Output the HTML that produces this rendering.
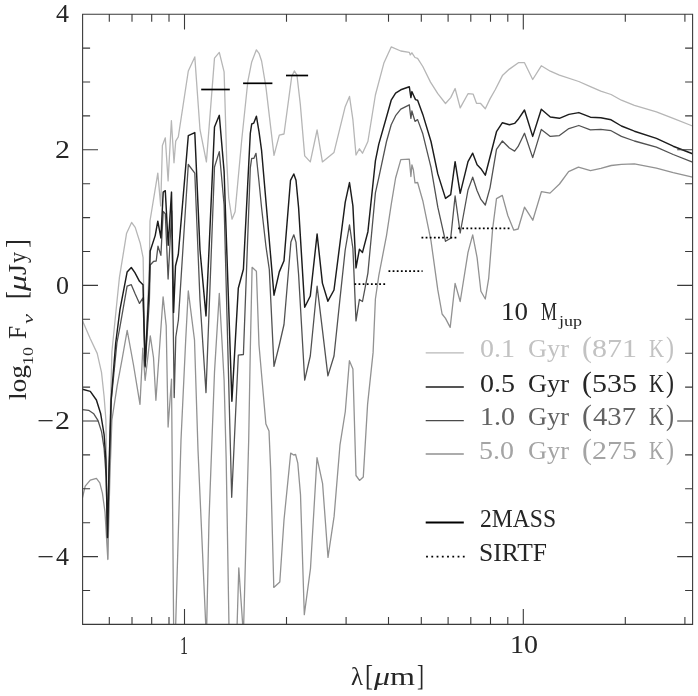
<!DOCTYPE html>
<html><head><meta charset="utf-8"><title>10 Mjup spectra</title>
<style>html,body{margin:0;padding:0;background:#fff}svg{display:block}text{font-family:"Liberation Serif",serif;}</style></head><body>
<svg width="698" height="696" viewBox="0 0 698 696">
<rect width="698" height="696" fill="#fff"/>
<defs><clipPath id="c"><rect x="82.6" y="14.2" width="610.0" height="610.2"/></clipPath></defs>
<g clip-path="url(#c)" fill="none" stroke-linejoin="round" stroke-linecap="round">
<polyline stroke="#b6b6b6" stroke-width="1.3" points="82.5,320.7 90.3,338.8 97.2,353.4 101.5,372.4 104.1,396.5 105.9,420.0 107.8,559.5 109.6,440.0 111.9,351.7 117.1,300.0 119.4,277.7 126.6,233.2 131.6,222.4 135.2,227.4 140.2,243.2 143.1,257.6 145.1,368.0 149.4,262.0 150.0,221.0 157.8,173.1 160.7,205.9 162.4,145.5 165.3,137.8 168.1,180.9 171.4,120.7 174.0,162.8 175.7,141.2 178.3,136.9 188.3,71.0 194.8,56.9 200.0,129.7 206.4,161.9 214.5,58.1 219.3,52.4 224.1,71.9 226.7,160.0 228.7,198.0 232.0,219.2 235.1,211.7 241.7,140.3 247.8,81.7 251.7,61.9 256.4,49.8 259.0,53.3 261.6,61.0 265.9,86.9 274.0,155.3 279.3,135.2 284.0,134.0 291.7,76.6 294.3,70.9 296.9,74.8 300.3,104.1 304.7,155.9 310.3,161.9 317.1,130.0 322.4,161.9 334.0,152.4 345.2,106.7 349.5,96.4 352.9,119.7 356.0,155.0 359.4,148.8 362.5,153.2 367.9,141.5 375.4,95.0 384.0,62.7 391.2,46.9 400.8,51.0 409.3,52.3 410.3,54.9 411.9,52.8 415.0,57.5 417.6,58.3 422.8,66.5 430.5,82.1 437.8,93.7 445.5,103.5 450.7,97.6 455.1,88.5 460.2,107.9 468.0,93.7 473.2,94.2 476.5,103.3 480.4,103.3 485.3,108.7 490.0,98.9 495.2,89.8 502.4,75.6 509.4,69.1 518.4,62.7 524.5,62.7 532.7,79.5 541.3,65.8 550.3,71.2 559.4,75.1 578.8,81.5 590.4,86.7 600.8,91.1 611.1,94.5 621.4,100.2 634.4,105.3 656.4,111.8 673.2,118.3 692.5,126.0"/>
<polyline stroke="#929292" stroke-width="1.3" points="82.5,497.5 85.2,486.2 90.3,480.2 96.4,478.4 99.8,482.8 102.4,493.1 105.0,512.1 107.8,559.0 109.8,480.0 111.9,420.0 117.1,386.2 122.2,358.6 127.2,330.3 133.5,365.0 140.0,404.3 142.8,348.2 145.1,380.3 150.3,335.8 153.5,357.5 155.9,400.3 159.3,351.7 163.1,296.8 166.2,325.9 168.1,427.0 171.5,379.2 174.1,680.0 181.0,440.0 185.7,340.0 188.3,290.9 194.5,340.0 198.0,450.0 206.4,640.0 209.0,520.0 214.5,372.0 219.3,293.4 221.9,340.0 224.1,380.0 226.2,460.0 231.9,800.0 238.8,567.8 243.4,635.0 248.7,440.0 250.3,350.0 252.1,267.3 256.4,271.3 259.0,345.0 265.9,424.0 269.0,431.0 270.7,470.0 273.8,587.4 279.8,582.0 284.0,520.0 290.7,453.1 293.7,455.0 295.6,454.5 297.8,463.2 300.5,494.6 304.3,614.7 310.5,568.3 317.0,457.7 322.6,483.7 328.0,557.4 334.1,516.4 340.0,444.8 345.3,411.5 349.4,360.7 352.9,369.0 356.0,475.5 359.5,480.4 363.3,476.9 367.6,404.1 373.1,352.4 375.4,299.0 378.8,275.7 386.5,235.6 391.2,204.6 395.6,178.0 400.8,159.6 409.3,159.1 410.9,176.5 411.9,164.8 413.4,170.0 415.0,182.9 417.6,182.5 422.8,200.7 431.0,240.8 437.8,289.9 442.1,314.0 445.5,318.4 450.2,327.4 455.1,283.4 460.2,301.5 468.0,252.4 472.7,234.8 477.1,257.6 480.9,291.2 485.3,299.0 488.7,278.3 492.6,229.1 496.5,198.6 502.3,195.4 507.8,215.5 513.8,230.2 518.1,229.0 524.5,207.2 532.8,220.2 541.4,191.7 550.0,193.1 559.5,184.0 568.6,171.6 578.4,167.2 590.5,170.7 600.9,168.4 611.2,165.5 621.4,164.3 634.4,163.8 656.4,168.2 673.2,172.6 692.5,177.2"/>
<polyline stroke="#525252" stroke-width="1.3" points="82.5,409.6 88.6,410.3 93.8,413.8 98.1,420.7 101.6,431.9 104.1,448.3 106.2,477.6 107.5,537.5 109.2,470.0 111.3,400.0 116.9,343.0 120.0,326.7 127.1,286.2 131.3,284.7 134.9,293.3 139.5,303.4 143.0,297.9 145.1,367.0 149.4,300.0 150.2,265.0 153.7,261.3 156.2,261.0 158.0,246.1 160.9,255.4 163.2,211.4 165.3,213.7 168.1,279.0 171.7,211.0 174.2,397.5 175.8,337.0 178.4,320.0 188.3,164.5 194.8,173.1 200.0,300.0 206.0,392.6 214.5,167.0 219.3,151.6 224.1,205.0 231.7,497.3 238.3,355.2 243.4,354.5 250.3,167.9 251.7,158.4 253.8,158.4 256.0,153.3 259.0,181.7 261.6,208.0 265.9,246.0 269.3,269.5 274.0,366.4 279.3,345.0 284.0,324.5 290.9,242.1 293.8,234.8 296.0,242.1 298.6,274.5 304.7,380.2 310.3,356.0 317.1,286.2 322.4,329.7 327.9,375.9 334.0,356.0 340.0,298.6 345.2,250.0 349.5,224.8 352.9,248.5 356.0,320.9 359.4,299.5 362.5,301.5 367.9,273.1 375.4,192.9 378.8,177.7 386.5,141.5 391.2,124.7 395.6,115.7 400.8,109.2 409.3,104.8 410.9,118.3 411.9,111.0 415.0,121.4 417.6,119.6 422.8,133.8 431.0,167.4 437.8,207.2 445.5,241.3 450.7,238.2 455.1,196.0 460.2,233.0 468.0,190.0 472.7,177.2 477.0,190.5 480.9,199.4 485.3,205.0 490.0,187.8 496.5,149.3 502.4,141.0 509.4,148.0 514.6,151.1 518.0,146.7 524.5,133.3 532.7,157.6 541.3,129.4 550.3,136.4 559.4,135.6 568.9,128.6 578.8,125.5 590.4,129.9 600.8,129.4 611.1,130.7 621.4,136.4 634.4,141.0 656.4,147.2 673.2,154.5 692.5,162.2"/>
<polyline stroke="#1c1c1c" stroke-width="1.45" points="82.5,389.3 90.3,391.4 96.4,400.0 100.7,413.8 104.1,434.5 105.9,460.3 107.5,537.5 109.0,470.0 111.1,400.0 115.7,343.0 120.0,309.4 127.1,272.1 131.3,267.5 134.9,272.6 139.5,281.3 143.0,284.7 145.1,366.0 149.4,281.0 150.2,251.0 155.2,235.6 157.8,221.2 160.9,237.9 163.2,192.1 165.3,190.7 168.2,245.3 171.5,192.1 173.6,312.4 175.5,266.0 178.3,254.5 188.3,135.7 194.8,132.6 200.0,250.0 206.0,315.9 209.0,250.0 214.5,127.1 219.3,115.3 224.1,171.4 231.9,401.2 238.3,288.3 243.4,269.3 250.3,133.4 251.7,124.0 253.8,123.1 256.4,116.2 259.0,131.7 261.6,150.7 274.0,295.2 279.3,271.9 284.0,260.7 290.5,180.3 293.8,174.0 296.0,180.3 298.6,207.6 304.7,307.2 310.3,296.0 317.1,234.0 322.4,283.1 327.9,301.2 334.0,290.0 345.2,202.4 349.5,182.6 352.9,205.9 356.0,267.9 359.4,249.3 362.5,252.4 367.9,231.7 375.4,160.9 378.8,144.1 386.5,117.0 391.2,100.2 395.6,93.2 400.8,89.8 409.3,86.7 410.9,97.6 411.9,91.6 413.4,95.0 415.5,99.6 417.6,100.2 422.8,114.4 431.0,141.5 437.8,173.9 445.5,198.4 450.7,194.6 455.1,161.7 460.2,193.3 468.0,161.7 472.7,153.2 477.1,164.8 480.9,168.7 485.3,175.2 490.0,157.0 496.5,131.7 502.4,122.7 509.4,124.7 514.6,123.4 518.0,119.6 524.5,110.0 532.7,136.4 541.3,109.2 550.3,117.0 559.4,118.3 568.9,114.4 578.8,112.6 590.4,117.2 600.8,117.8 611.1,119.8 621.4,126.0 634.4,131.2 656.4,138.4 673.2,146.2 692.5,153.7"/>
</g>
<g stroke="#000" stroke-width="1.7" fill="none">
<line x1="201.2" y1="89.5" x2="229.8" y2="89.5"/>
<line x1="243.1" y1="83.3" x2="272.4" y2="83.3"/>
<line x1="286.0" y1="75.5" x2="308.1" y2="75.5"/>
</g>
<g stroke="#000" stroke-width="1.8" fill="none" stroke-dasharray="1.8 2.33">
<line x1="354.4" y1="284.1" x2="385.2" y2="284.1"/>
<line x1="388.5" y1="271.2" x2="422.6" y2="271.2"/>
<line x1="421.5" y1="237.7" x2="457.0" y2="237.7"/>
<line x1="458.1" y1="228.4" x2="510.9" y2="228.4"/>
</g>
<path d="M82.6 14.2H692.6V624.4H82.6ZM109.3 14.2v7.5M109.3 624.4v-7.5M132.0 14.2v7.5M132.0 624.4v-7.5M151.7 14.2v7.5M151.7 624.4v-7.5M169.0 14.2v7.5M169.0 624.4v-7.5M184.5 14.2v15.4M184.5 624.4v-15.4M286.5 14.2v7.5M286.5 624.4v-7.5M346.1 14.2v7.5M346.1 624.4v-7.5M388.5 14.2v7.5M388.5 624.4v-7.5M421.3 14.2v7.5M421.3 624.4v-7.5M448.1 14.2v7.5M448.1 624.4v-7.5M470.8 14.2v7.5M470.8 624.4v-7.5M490.5 14.2v7.5M490.5 624.4v-7.5M507.8 14.2v7.5M507.8 624.4v-7.5M523.3 14.2v15.4M523.3 624.4v-15.4M625.3 14.2v7.5M625.3 624.4v-7.5M684.9 14.2v7.5M684.9 624.4v-7.5M82.6 590.5h7.5M692.6 590.5h-7.5M82.6 556.6h15.4M692.6 556.6h-15.4M82.6 522.7h7.5M692.6 522.7h-7.5M82.6 488.8h7.5M692.6 488.8h-7.5M82.6 454.9h7.5M692.6 454.9h-7.5M82.6 421.0h15.4M692.6 421.0h-15.4M82.6 387.1h7.5M692.6 387.1h-7.5M82.6 353.2h7.5M692.6 353.2h-7.5M82.6 319.3h7.5M692.6 319.3h-7.5M82.6 285.4h15.4M692.6 285.4h-15.4M82.6 251.5h7.5M692.6 251.5h-7.5M82.6 217.6h7.5M692.6 217.6h-7.5M82.6 183.7h7.5M692.6 183.7h-7.5M82.6 149.8h15.4M692.6 149.8h-15.4M82.6 115.9h7.5M692.6 115.9h-7.5M82.6 82.0h7.5M692.6 82.0h-7.5M82.6 48.1h7.5M692.6 48.1h-7.5" fill="none" stroke="#3a3a3a" stroke-width="1.1"/>
<g font-size="25">
<text y="357.0" fill="#c2c2c2"><tspan id="r1_0" x="480.00" textLength="35.00" lengthAdjust="spacingAndGlyphs">0.1</tspan> <tspan id="r1_1" x="528.00" textLength="41.00" lengthAdjust="spacingAndGlyphs">Gyr</tspan> <tspan id="r1_2" x="582.00" textLength="10.00" lengthAdjust="spacingAndGlyphs" font-size="29">(</tspan><tspan id="r1_3" x="592.00" textLength="45.00" lengthAdjust="spacingAndGlyphs">871</tspan> <tspan id="r1_4" x="649.00" textLength="15.00" lengthAdjust="spacingAndGlyphs">K</tspan><tspan id="r1_5" x="666.00" textLength="8.00" lengthAdjust="spacingAndGlyphs" font-size="29">)</tspan></text>
<text y="391.5" fill="#262626"><tspan id="r2_0" x="480.00" textLength="35.00" lengthAdjust="spacingAndGlyphs">0.5</tspan> <tspan id="r2_1" x="528.00" textLength="41.00" lengthAdjust="spacingAndGlyphs">Gyr</tspan> <tspan id="r2_2" x="582.00" textLength="10.00" lengthAdjust="spacingAndGlyphs" font-size="29">(</tspan><tspan id="r2_3" x="592.00" textLength="45.00" lengthAdjust="spacingAndGlyphs">535</tspan> <tspan id="r2_4" x="649.00" textLength="15.00" lengthAdjust="spacingAndGlyphs">K</tspan><tspan id="r2_5" x="666.00" textLength="8.00" lengthAdjust="spacingAndGlyphs" font-size="29">)</tspan></text>
<text y="425.4" fill="#626262"><tspan id="r3_0" x="480.00" textLength="35.00" lengthAdjust="spacingAndGlyphs">1.0</tspan> <tspan id="r3_1" x="528.00" textLength="41.00" lengthAdjust="spacingAndGlyphs">Gyr</tspan> <tspan id="r3_2" x="582.00" textLength="10.00" lengthAdjust="spacingAndGlyphs" font-size="29">(</tspan><tspan id="r3_3" x="593.00" textLength="43.00" lengthAdjust="spacingAndGlyphs">437</tspan> <tspan id="r3_4" x="649.00" textLength="15.00" lengthAdjust="spacingAndGlyphs">K</tspan><tspan id="r3_5" x="666.00" textLength="8.00" lengthAdjust="spacingAndGlyphs" font-size="29">)</tspan></text>
<text y="459.3" fill="#a4a4a4"><tspan id="r4_0" x="479.00" textLength="35.00" lengthAdjust="spacingAndGlyphs">5.0</tspan> <tspan id="r4_1" x="528.00" textLength="41.00" lengthAdjust="spacingAndGlyphs">Gyr</tspan> <tspan id="r4_2" x="582.00" textLength="10.00" lengthAdjust="spacingAndGlyphs" font-size="29">(</tspan><tspan id="r4_3" x="592.00" textLength="45.00" lengthAdjust="spacingAndGlyphs">275</tspan> <tspan id="r4_4" x="649.00" textLength="15.00" lengthAdjust="spacingAndGlyphs">K</tspan><tspan id="r4_5" x="666.00" textLength="8.00" lengthAdjust="spacingAndGlyphs" font-size="29">)</tspan></text>
<text y="527" fill="#262626"><tspan id="m2" x="480.00" textLength="76.00" lengthAdjust="spacingAndGlyphs">2MASS</tspan></text>
<text y="561" fill="#262626"><tspan id="si" x="479.00" textLength="68.00" lengthAdjust="spacingAndGlyphs">SIRTF</tspan></text>
<text y="320" fill="#262626"><tspan id="t10" x="501.00" textLength="27.00" lengthAdjust="spacingAndGlyphs">10</tspan> <tspan id="tM" x="541.00" textLength="16.00" lengthAdjust="spacingAndGlyphs">M</tspan><tspan id="tj" x="559.00" textLength="23.00" lengthAdjust="spacingAndGlyphs" font-size="15" dy="5.5">jup</tspan></text>
<text y="653.6" fill="#262626"><tspan id="x1" x="180.00" textLength="8.00" lengthAdjust="spacingAndGlyphs">1</tspan></text>
<text y="653.3" fill="#262626"><tspan id="x10" x="510.00" textLength="28.00" lengthAdjust="spacingAndGlyphs">10</tspan></text>
<text y="22.4" fill="#262626"><tspan id="y0" x="56.00" textLength="13.00" lengthAdjust="spacingAndGlyphs">4</tspan></text>
<text y="158.0" fill="#262626"><tspan id="y1" x="55.00" textLength="15.00" lengthAdjust="spacingAndGlyphs">2</tspan></text>
<text y="293.6" fill="#262626"><tspan id="y2" x="56.00" textLength="13.00" lengthAdjust="spacingAndGlyphs">0</tspan></text>
<text y="429.2" fill="#262626"><tspan id="y3m" x="37.00" textLength="17.00" lengthAdjust="spacingAndGlyphs">−</tspan><tspan id="y3" x="55.00" textLength="15.00" lengthAdjust="spacingAndGlyphs">2</tspan></text>
<text y="564.8" fill="#262626"><tspan id="y4m" x="37.00" textLength="17.00" lengthAdjust="spacingAndGlyphs">−</tspan><tspan id="y4" x="56.00" textLength="13.00" lengthAdjust="spacingAndGlyphs">4</tspan></text>
<text y="685.3" fill="#262626"><tspan id="xl_l" x="351.00" textLength="12.00" lengthAdjust="spacingAndGlyphs">λ</tspan><tspan id="xl_b" x="365.00" textLength="8.00" lengthAdjust="spacingAndGlyphs" font-size="29">[</tspan><tspan id="xl_mu" x="374.00" textLength="16.00" lengthAdjust="spacingAndGlyphs" font-style="italic">μ</tspan><tspan id="xl_m" x="390.00" textLength="25.00" lengthAdjust="spacingAndGlyphs">m</tspan><tspan id="xl_e" x="417.00" textLength="7.00" lengthAdjust="spacingAndGlyphs" font-size="29">]</tspan></text>
<text transform="translate(26,399.5) rotate(-90)" y="0" fill="#262626"><tspan id="yl_log" x="-0.50" textLength="35.00" lengthAdjust="spacingAndGlyphs">log</tspan><tspan id="yl_10" x="34.50" textLength="18.00" lengthAdjust="spacingAndGlyphs" font-size="15" dy="7">10</tspan> <tspan id="yl_F" x="60.50" textLength="13.00" lengthAdjust="spacingAndGlyphs" dy="-7">F</tspan><tspan id="yl_nu" x="75.50" textLength="10.00" lengthAdjust="spacingAndGlyphs" font-size="15" font-style="italic" dy="7">ν</tspan> <tspan id="yl_b" x="100.50" textLength="8.00" lengthAdjust="spacingAndGlyphs" dy="-7" font-size="29">[</tspan><tspan id="yl_mu" x="108.50" textLength="16.00" lengthAdjust="spacingAndGlyphs" font-style="italic">μ</tspan><tspan id="yl_J" x="124.50" textLength="11.00" lengthAdjust="spacingAndGlyphs">J</tspan><tspan id="yl_y" x="136.50" textLength="11.00" lengthAdjust="spacingAndGlyphs">y</tspan><tspan id="yl_e" x="151.50" textLength="9.00" lengthAdjust="spacingAndGlyphs" font-size="29">]</tspan></text>
</g>
<g fill="none">
<line x1="425.7" x2="463.8" y1="352.8" y2="352.8" stroke="#b8b8b8" stroke-width="1.3"/>
<line x1="425.7" x2="463.8" y1="387" y2="387" stroke="#1c1c1c" stroke-width="1.45"/>
<line x1="425.7" x2="463.8" y1="420.7" y2="420.7" stroke="#4a4a4a" stroke-width="1.3"/>
<line x1="425.7" x2="463.8" y1="454.0" y2="454.0" stroke="#909090" stroke-width="1.3"/>
<line x1="425.7" x2="463.8" y1="522.5" y2="522.5" stroke="#000" stroke-width="1.8"/>
<line x1="426.1" x2="465" y1="556.7" y2="556.7" stroke="#000" stroke-width="1.8" stroke-dasharray="1.8 3.45"/>
</g>
</svg></body></html>
